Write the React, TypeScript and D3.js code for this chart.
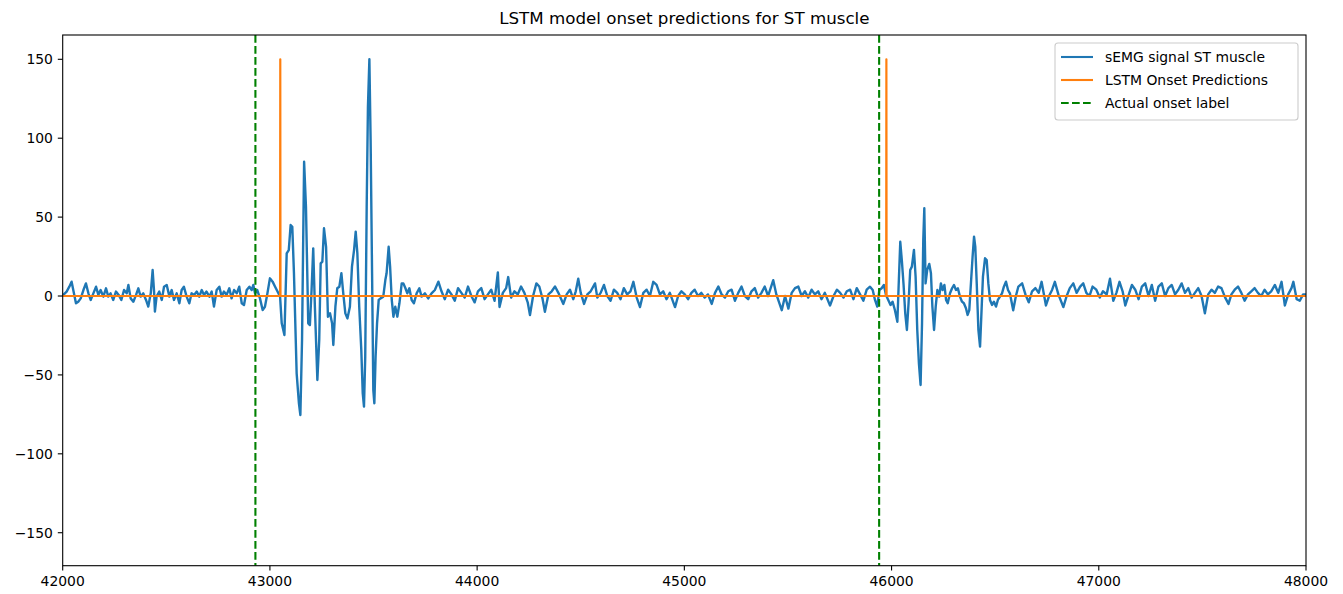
import React from "react";
import * as d3 from "d3";

// ---------- data ----------
const chartTitle = "LSTM model onset predictions for ST muscle";
const xTicks = [42000, 43000, 44000, 45000, 46000, 47000, 48000];
const yTicks = [-150, -100, -50, 0, 50, 100, 150];
const xDomain: [number, number] = [42000, 48000];
const yDomain: [number, number] = [-170.9, 165.4];

// sEMG signal, rest phase before first burst
const signalRestA: [number, number][] = [
  [42000, -0.4], [42003, 0.7], [42019, 2.8], [42032, 5.9], [42043, 9.1], [42051, 3.8], [42064, -4.6], [42075, -3.6],
  [42087, -1.5], [42100, 3.8], [42112, 8.0], [42124, 1.7], [42135, -2.5], [42148, 1.7], [42161, 5.9], [42172, 0.7],
  [42183, 3.8], [42196, -0.4], [42209, 4.9], [42220, -0.4], [42231, 1.7], [42244, -2.5], [42257, 2.8], [42270, 0.7],
  [42283, -2.5], [42296, 3.8], [42309, 1.7], [42317, 7.0], [42328, -1.5], [42341, -3.6], [42354, 0.7], [42365, 4.9],
  [42376, -0.4], [42389, 1.7], [42402, -2.5], [42413, -6.7], [42425, 1.7], [42434, 16.5], [42441, 2.8], [42445, -9.9],
  [42453, -0.4], [42466, 2.8], [42478, -2.5], [42489, 5.9], [42502, 7.0], [42515, -0.4], [42526, 3.8], [42537, -2.5],
  [42550, 1.7], [42563, -4.6], [42574, 3.8], [42585, 5.9], [42598, -0.4], [42611, -4.6], [42622, 1.7], [42634, 0.7],
  [42647, 2.8], [42659, -0.4], [42671, 3.8], [42682, 0.7], [42694, 2.8], [42708, -0.4], [42719, 2.8], [42730, -6.7],
  [42743, 3.8], [42756, 5.9], [42767, -0.4], [42778, 2.8], [42791, 0.7], [42804, 4.9], [42815, -1.5], [42827, 3.8],
  [42840, 1.7], [42852, 5.9], [42864, -4.6], [42875, -5.7], [42888, 3.8], [42901, 5.9], [42912, 3.8], [42920, 7.0],
];

// first muscle burst
const signalBurst1: [number, number][] = [
  [42928, 1.7], [42939, 3.8], [42952, -1.5], [42965, -8.9], [42976, -6.8], [42988, 1.7], [43000, 11.2], [43013, 9.1],
  [43025, 5.9], [43041, 1.7], [43049, -0.4], [43057, -17.3], [43070, -24.7], [43081, 27.0], [43091, 29.1], [43100, 45.0],
  [43108, 43.9], [43116, 14.4], [43129, -49], [43140, -68], [43147, -75.4], [43155, -27.9], [43165, 85.1], [43174, 56.6],
  [43185, -17.3], [43193, -18.4], [43201, 3.8], [43209, 30.2], [43217, -6.8], [43229, -53.2], [43238, -27.9], [43245, 20.7],
  [43253, 21.8], [43261, 42.9], [43271, 31.2], [43280, -13.1], [43290, -11], [43300, -17.3], [43306, -31], [43316, -6.8],
  [43325, 4.9], [43335, 5.9], [43345, 14.4], [43354, 1.7], [43364, -11], [43374, -14.2], [43386, -6.8], [43396, 18.6],
  [43406, 29.1], [43414, 40.8], [43422, 27], [43431, -6.8], [43441, -34.2], [43448, -61.7], [43454, -70.1], [43460, -38.4],
  [43467, 56.6], [43473, 120], [43480, 150], [43486, 98.8], [43493, 14.4], [43499, -59.6], [43504, -68], [43510, -38.4],
  [43517, -17.3], [43525, -2.5], [43534, -1.5], [43547, -0.4], [43557, 10.1], [43563, 14.4], [43573, 31.2], [43580, 18.6],
  [43588, -2.5], [43596, -13.1], [43605, -6.8], [43615, -13.1], [43625, -4.6], [43636, 8.0], [43644, 8.0], [43654, 4.9],
  [43663, 1.7], [43673, 4.9], [43684, -2.5], [43695, -4.6], [43708, 1.7], [43721, 4.9], [43732, -0.4], [43748, 1.7],
  [43764, -1.5], [43780, 1.7], [43796, 3.8], [43813, 9.1],
];

// rest phase between bursts
const signalRestB: [number, number][] = [
  [43828, 3], [43844, -2], [43860, 4], [43876, 1], [43892, -3], [43908, 5], [43924, 2], [43940, -1],
  [43956, 6], [43972, 0], [43988, -4], [44004, 3], [44020, 5], [44036, -2], [44052, 1], [44068, 4],
  [44084, -3], [44100, 15], [44108, -7], [44124, 2], [44140, 5], [44150, 12], [44164, -1], [44180, 3],
  [44196, 1], [44212, 6], [44228, 2], [44244, -4], [44255, -12], [44270, 0], [44286, 8], [44300, 6],
  [44316, -2], [44327, -10], [44344, 1], [44360, 3], [44376, 6], [44392, 2], [44416, -5], [44432, 1],
  [44448, 4], [44464, -2], [44476, 3], [44488, 11], [44500, 2], [44516, -5], [44532, 1], [44548, 3],
  [44569, 8], [44580, -1], [44596, 2], [44612, 7], [44628, 0], [44644, -3], [44660, 4], [44676, 2],
  [44692, -2], [44708, 5], [44724, 1], [44740, 3], [44754, 9], [44770, -1], [44786, -7], [44802, 2],
  [44818, 4], [44834, 0], [44850, 9], [44866, 7], [44882, 1], [44898, 3], [44914, -2], [44930, 2],
  [44955, -7], [44970, 0], [44986, 3], [45002, 1], [45018, -2], [45034, 2], [45050, 4], [45066, 0],
  [45082, 2], [45098, -1], [45114, 1], [45132, -5], [45148, 2], [45164, 6], [45180, 1], [45196, -1],
  [45212, 3], [45228, 4], [45244, -3], [45260, 2], [45276, 6], [45292, 0], [45308, -2], [45324, 3],
  [45340, 5], [45356, -1], [45372, 2], [45388, 6], [45404, 0], [45429, 10], [45444, 1], [45470, -9],
  [45486, 0], [45502, -8], [45518, 2], [45534, 5], [45550, 6], [45566, 0], [45582, 3], [45598, -1],
  [45614, 4], [45630, 1], [45646, 3], [45662, -2], [45678, 2], [45703, -6], [45720, 0], [45736, 4],
  [45752, 2], [45768, -1], [45784, 3], [45800, 4], [45816, -2], [45832, 5], [45848, 1], [45864, -3],
  [45880, 4],
];

// second muscle burst
const signalBurst2: [number, number][] = [
  [45896, 5.9], [45909, 3.8], [45920, -2.5], [45931, -6.7], [45941, 3.8], [45952, 4.9], [45963, 7.0], [45973, 0.6],
  [45984, -2.5], [45995, -5.7], [46005, -3.6], [46016, -8.9], [46028, -16.3], [46034, 5.9], [46042, 34.4], [46050, 21.8],
  [46058, 7.0], [46066, -11], [46074, -21.5], [46082, -4.6], [46090, 16.5], [46098, 18.6], [46108, 29.2], [46116, 12.3],
  [46124, -21.5], [46132, -42.7], [46140, -56.4], [46147, -17.3], [46153, 35.5], [46158, 55.6], [46164, 8.0], [46172, 16.5],
  [46182, 20.3], [46190, 14.4], [46197, -6.7], [46205, -21.5], [46213, -6.7], [46221, 3.8], [46230, -0.4], [46238, 8.0],
  [46246, 3.8], [46255, 7.0], [46263, -2.5], [46271, -4.6], [46282, 1.7], [46292, 4.9], [46301, 7.0], [46311, 3.8],
  [46320, 4.9], [46330, -0.4], [46340, -3.6], [46349, -4.6], [46359, -7.8], [46367, -12], [46375, -8.9], [46383, 8.0],
  [46391, 24.9], [46398, 37.6], [46404, 31.3], [46411, 8.0], [46419, -21.5], [46427, -32.1], [46433, -13.1], [46441, 12.3],
  [46451, 23.9], [46459, 22.8], [46467, 8.0], [46475, -2.5], [46485, -5.7], [46494, -3.6], [46504, -6.7], [46513, -2.5],
  [46523, -0.4], [46533, 1.7], [46542, 5.9], [46552, 9.1], [46562, 3.8], [46571, 1.7],
];

// rest phase after second burst
const signalRestC: [number, number][] = [
  [46587, -9], [46600, 0], [46612, 6], [46630, 8], [46646, 1], [46662, -4], [46678, 3], [46694, 5],
  [46710, 2], [46724, 9], [46745, -6], [46760, 0], [46775, 4], [46788, 9], [46805, 1], [46829, -7],
  [46845, 0], [46860, 5], [46877, 8], [46893, 2], [46910, 6], [46925, 8], [46940, 2], [46955, 0],
  [46970, 6], [46988, 4], [47005, -1], [47020, 3], [47038, 1], [47054, 11], [47070, -3], [47085, 2],
  [47100, 9], [47115, 3], [47128, -6], [47145, 1], [47160, 7], [47176, 4], [47192, -2], [47208, 6],
  [47224, 8], [47240, 0], [47256, 7], [47272, -3], [47288, 6], [47304, 8], [47320, 0], [47336, 5],
  [47352, 7], [47368, 1], [47384, 4], [47400, 8], [47416, 2], [47432, 5], [47448, -1], [47464, 2],
  [47480, 5], [47496, 0], [47512, -11], [47528, 1], [47544, 4], [47560, 2], [47576, 6], [47592, 5],
  [47610, -1], [47626, -5], [47640, 1], [47656, 4], [47672, 6], [47688, 2], [47704, -3], [47720, 1],
  [47736, 3], [47752, 5], [47768, 2], [47784, 0], [47800, 4], [47816, 1], [47832, 3], [47850, 7],
  [47866, 2], [47882, 9], [47898, -6], [47914, 1], [47930, 5], [47939, 9], [47955, -2], [47970, -3],
  [47986, 1], [48000, 1],
];

// LSTM predictions: 0 everywhere, 150 at predicted onset samples
const predictedOnsets = [43050, 45975];
const predictionLevel = 150;
// actual onset labels (vertical dashed lines)
const actualOnsets = [42930, 45940];

const legendLabels = ["sEMG signal ST muscle", "LSTM Onset Predictions", "Actual onset label"];

// ---------- styling / layout ----------
const W = 1343;
const H = 594;
const L = 62.7, R = 1306, T = 35, B = 565.7;
const BLUE = "#1f77b4", ORANGE = "#ff7f0e", GREEN = "#008000";
const FONT = "'DejaVu Sans', Verdana, sans-serif";

export default function App() {
  const x = d3.scaleLinear().domain(xDomain).range([L, R]);
  const y = d3.scaleLinear().domain(yDomain).range([B, T]);

  const signal = [...signalRestA, ...signalBurst1, ...signalRestB, ...signalBurst2, ...signalRestC];

  const predictions: [number, number][] = [[xDomain[0], 0]];
  predictedOnsets.forEach((o) => {
    predictions.push([o - 1, 0], [o, predictionLevel], [o + 1, 0]);
  });
  predictions.push([xDomain[1], 0]);

  const line = d3
    .line<[number, number]>()
    .x((d) => x(d[0]))
    .y((d) => y(d[1]));

  const fmt = (v: number) => (v < 0 ? "\u2212" + Math.abs(v) : String(v));

  const legendX = 1055, legendY = 43, legendW = 243, legendH = 77;
  const rowY = [57, 80, 103];

  return (
    <div style={{ position: "absolute", left: 0, top: 0 }}>
      <svg width={W} height={H} viewBox={`0 0 ${W} ${H}`} style={{ display: "block", background: "#fff" }}>
        <defs>
          <clipPath id="plotClip">
            <rect x={L} y={T} width={R - L} height={B - T} />
          </clipPath>
        </defs>
        <rect x={0} y={0} width={W} height={H} fill="#fff" />
        <g clipPath="url(#plotClip)">
          <path d={line(signal) || ""} fill="none" stroke={BLUE} strokeWidth={2.4} strokeLinejoin="round" />
          <path d={line(predictions) || ""} fill="none" stroke={ORANGE} strokeWidth={2.2} strokeLinejoin="round" />
          {actualOnsets.map((o) => (
            <line key={o} x1={x(o)} x2={x(o)} y1={T} y2={B} stroke={GREEN} strokeWidth={2.1} strokeDasharray="7.7 3.3" />
          ))}
        </g>

        {/* spines */}
        <rect x={L} y={T} width={R - L} height={B - T} fill="none" stroke="#000" strokeWidth={1.1} />

        {/* x ticks */}
        {xTicks.map((t) => (
          <g key={t}>
            <line x1={x(t)} x2={x(t)} y1={B} y2={B + 4.9} stroke="#000" strokeWidth={1.1} />
            <text x={x(t)} y={B + 20.5} fontSize={13.9} fontFamily={FONT} textAnchor="middle" fill="#000">
              {t}
            </text>
          </g>
        ))}
        {/* y ticks */}
        {yTicks.map((t) => (
          <g key={t}>
            <line x1={L - 4.9} x2={L} y1={y(t)} y2={y(t)} stroke="#000" strokeWidth={1.1} />
            <text x={L - 9.8} y={y(t) + 5} fontSize={13.9} fontFamily={FONT} textAnchor="end" fill="#000">
              {fmt(t)}
            </text>
          </g>
        ))}

        {/* title */}
        <text x={(L + R) / 2} y={24} fontSize={16.7} fontFamily={FONT} textAnchor="middle" fill="#000">
          {chartTitle}
        </text>

        {/* legend */}
        <rect x={legendX} y={legendY} width={legendW} height={legendH} rx={3} fill="#fff" fillOpacity={0.8} stroke="#cccccc" strokeWidth={1.1} />
        {legendLabels.map((lab, i) => (
          <g key={lab}>
            <line
              x1={legendX + 6}
              x2={legendX + 38}
              y1={rowY[i]}
              y2={rowY[i]}
              stroke={[BLUE, ORANGE, GREEN][i]}
              strokeWidth={2.1}
              strokeDasharray={i === 2 ? "7.7 3.3" : undefined}
            />
            <text x={legendX + 50} y={rowY[i] + 5} fontSize={13.9} fontFamily={FONT} fill="#000">
              {lab}
            </text>
          </g>
        ))}
      </svg>
    </div>
  );
}
